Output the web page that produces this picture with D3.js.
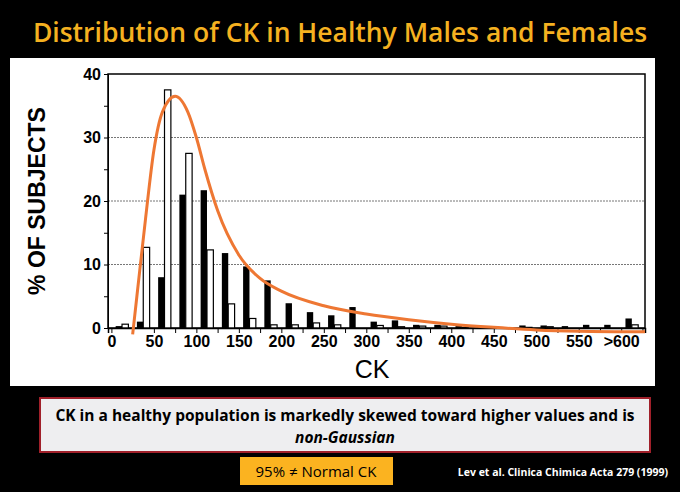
<!DOCTYPE html>
<html><head><meta charset="UTF-8">
<script src="https://d3js.org/d3.v7.min.js"></script>
<style>body{margin:0;background:#000;font-family:"Open Sans",Arial,sans-serif}</style>
</head><body>
<script>
const binStarts = [0,25,50,75,100,125,150,175,200,225,250,275,300,325,350,375,400,425,450,475,500,525,550,575,600];
const males   = [0.3,1.0,8.0,21.0,21.7,11.8,9.7,7.5,3.9,2.5,2.0,3.3,1.0,1.2,0.5,0.5,0.3,0.1,0.1,0.4,0.4,0.3,0.5,0.5,1.5];
const females = [0.6,12.7,37.5,27.5,12.3,3.8,1.5,0.5,0.5,0.8,0.5,0,0.4,0.2,0.3,0.3,0.1,0,0,0.1,0.2,0,0,0,0.5];
const xTicks = [0,50,100,150,200,250,300,350,400,450,500,550,600];
const yTicks = [0,10,20,30,40];
const curveX = [25,30,40,50,60,75,90,100,110,125,150,175,200,250,300,350,400,450,500,550,628];
const curveY = [-1,5,17,28,34,36.5,34,30,25,18.5,11.5,7.8,5.8,3.5,2.2,1.3,0.6,0.1,-0.3,-0.5,-0.6];

const svg = d3.select("body").append("svg").attr("width",680).attr("height",492);
svg.append("rect").attr("width",680).attr("height",492).attr("fill","#000");
svg.append("text").attr("x",340).attr("y",42).attr("text-anchor","middle").attr("font-weight",600)
  .attr("fill","#f5b120").attr("font-size",26.5).text("Distribution of CK in Healthy Males and Females");
svg.append("rect").attr("x",10).attr("y",58).attr("width",645).attr("height",328).attr("fill","#fff");

const x = d3.scaleLinear().domain([-4,628]).range([108,645]);
const y = d3.scaleLinear().domain([0,40]).range([328,74]);
const g = svg.append("g");
yTicks.filter(d=>d>0&&d<40).forEach(d=>{
  g.append("line").attr("x1",108).attr("x2",645).attr("y1",y(d)).attr("y2",y(d))
   .attr("stroke","#777").attr("stroke-dasharray","2,1");
});
g.append("rect").attr("x",108).attr("y",74).attr("width",537).attr("height",254)
  .attr("fill","none").attr("stroke","#000").attr("stroke-width",1.5);

const bw = x(25)-x(0);
g.selectAll(".m").data(binStarts).enter().append("rect")
  .attr("x",d=>x(d)+bw*0.2).attr("width",bw*0.3)
  .attr("y",(d,i)=>y(males[i])).attr("height",(d,i)=>y(0)-y(males[i])).attr("fill","#000");
g.selectAll(".f").data(binStarts).enter().append("rect")
  .attr("x",d=>x(d)+bw*0.5).attr("width",bw*0.3)
  .attr("y",(d,i)=>y(females[i])).attr("height",(d,i)=>y(0)-y(females[i]))
  .attr("fill","#fff").attr("stroke","#000").attr("stroke-width",1.2);

const xa = g.append("g").attr("transform","translate(0,328)")
  .call(d3.axisBottom(x).tickValues(d3.range(0,626,25)).tickSize(5).tickFormat(d=>xTicks.includes(d)?(d===600?">600":d):""));
xa.select(".domain").attr("stroke-width",1.5);
xa.selectAll("text").attr("font-size",16).attr("font-weight","bold").attr("font-family","Arial,sans-serif").attr("fill","#000");
const ya = g.append("g").attr("transform","translate(108,0)")
  .call(d3.axisLeft(y).tickValues(d3.range(0,41,5)).tickSize(4).tickFormat(d=>yTicks.includes(d)?d:""));
ya.selectAll("text").attr("font-size",16).attr("font-weight","bold").attr("font-family","Arial,sans-serif").attr("fill","#000");
g.append("text").attr("transform","translate(45,201) rotate(-90)").attr("text-anchor","middle")
  .attr("font-family","Arial,sans-serif").attr("font-size",23).attr("font-weight","bold").text("% OF SUBJECTS");
g.append("text").attr("x",372).attr("y",378).attr("text-anchor","middle")
  .attr("font-family","Arial,sans-serif").attr("font-size",25).text("CK");

g.append("path").datum(curveX.map((d,i)=>[d,curveY[i]]))
  .attr("d",d3.line().x(d=>x(d[0])).y(d=>y(d[1])).curve(d3.curveMonotoneX))
  .attr("fill","none").attr("stroke","#ee7733").attr("stroke-width",3);

svg.append("rect").attr("x",40).attr("y",398).attr("width",610).attr("height",54)
  .attr("fill","#eeeef0").attr("stroke","#a0202a").attr("stroke-width",2);
svg.append("text").attr("x",345).attr("y",421).attr("text-anchor","middle").attr("font-size",15.5).attr("font-weight","bold")
  .text("CK in a healthy population is markedly skewed toward higher values and is");
svg.append("text").attr("x",345).attr("y",443).attr("text-anchor","middle").attr("font-size",15.5).attr("font-weight","bold")
  .attr("font-style","italic").text("non-Gaussian");
svg.append("rect").attr("x",240).attr("y",457).attr("width",153).attr("height",28).attr("fill","#fbb320");
svg.append("text").attr("x",316).attr("y",477).attr("text-anchor","middle").attr("font-size",15).text("95% ≠ Normal CK");
svg.append("text").attr("x",668).attr("y",476).attr("text-anchor","end").attr("fill","#fff").attr("font-size",10.5).attr("font-weight","bold")
  .text("Lev et al. Clinica Chimica Acta 279 (1999)");
</script>
</body></html>
